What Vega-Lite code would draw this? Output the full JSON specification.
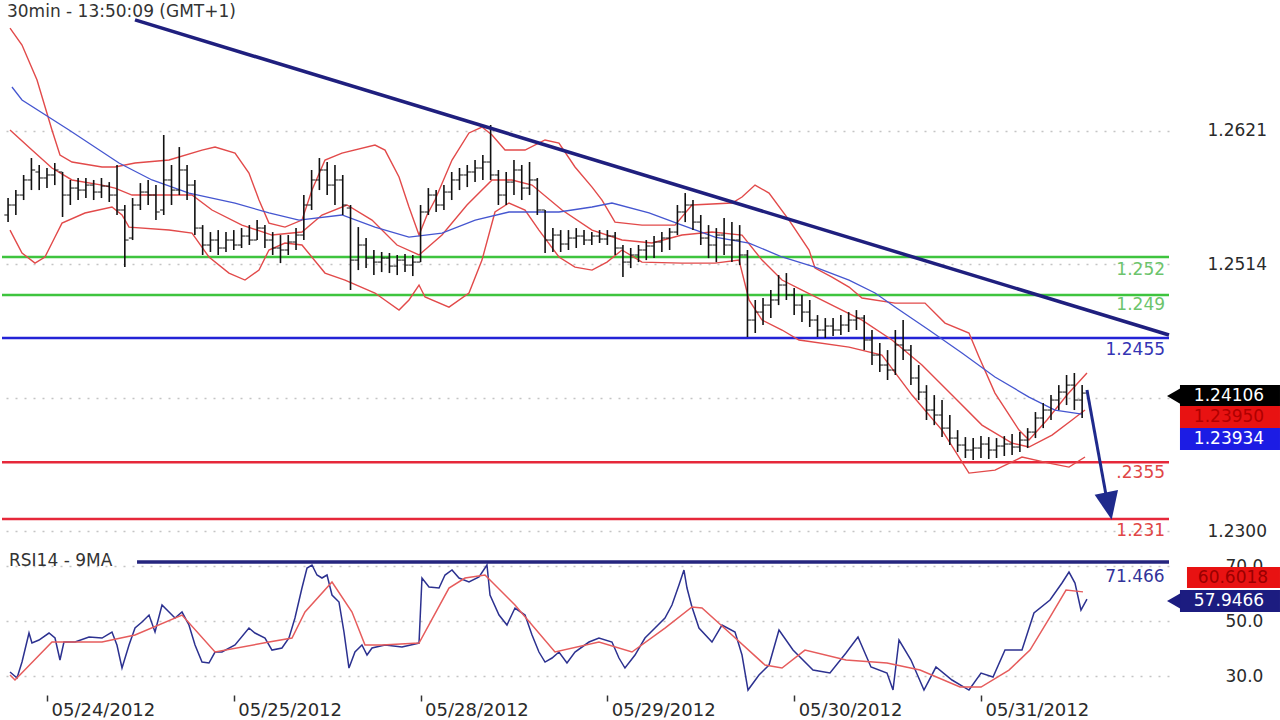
{
  "$schema": "https://vega.github.io/schema/vega-lite/v6.json",
  "padding": 0,
  "background": "white",
  "spacing": 4,
  "config": {"view": {"stroke": null}, "font": "DejaVu Sans"},
  "datasets": {
    "bars": [
      {"t":-5,"o":1.25536,"h":1.25672,"l":1.25479,"c":1.25616},
      {"t":-4,"o":1.25616,"h":1.25736,"l":1.25536,"c":1.25696},
      {"t":-3,"o":1.25696,"h":1.25857,"l":1.25656,"c":1.25817},
      {"t":-2,"o":1.25817,"h":1.25993,"l":1.25736,"c":1.25897},
      {"t":-1,"o":1.25881,"h":1.25937,"l":1.25736,"c":1.25833},
      {"t":0,"o":1.25833,"h":1.25913,"l":1.25752,"c":1.25857},
      {"t":1,"o":1.25857,"h":1.25953,"l":1.25776,"c":1.25897},
      {"t":2,"o":1.25881,"h":1.25881,"l":1.25520,"c":1.25696},
      {"t":3,"o":1.25696,"h":1.25817,"l":1.25616,"c":1.25752},
      {"t":4,"o":1.25752,"h":1.25833,"l":1.25656,"c":1.25736},
      {"t":5,"o":1.25736,"h":1.25833,"l":1.25672,"c":1.25776},
      {"t":6,"o":1.25776,"h":1.25817,"l":1.25656,"c":1.25720},
      {"t":7,"o":1.25720,"h":1.25833,"l":1.25672,"c":1.25768},
      {"t":8,"o":1.25768,"h":1.25800,"l":1.25640,"c":1.25696},
      {"t":9,"o":1.25696,"h":1.25937,"l":1.25536,"c":1.25576},
      {"t":10,"o":1.25576,"h":1.25616,"l":1.25118,"c":1.25335},
      {"t":11,"o":1.25351,"h":1.25672,"l":1.25335,"c":1.25616},
      {"t":12,"o":1.25616,"h":1.25792,"l":1.25576,"c":1.25720},
      {"t":13,"o":1.25720,"h":1.25817,"l":1.25616,"c":1.25696},
      {"t":14,"o":1.25696,"h":1.25776,"l":1.25495,"c":1.25560},
      {"t":15,"o":1.25576,"h":1.26178,"l":1.25536,"c":1.25817},
      {"t":16,"o":1.25817,"h":1.25937,"l":1.25616,"c":1.25736},
      {"t":17,"o":1.25736,"h":1.26081,"l":1.25696,"c":1.25897},
      {"t":18,"o":1.25897,"h":1.25937,"l":1.25656,"c":1.25776},
      {"t":19,"o":1.25776,"h":1.25817,"l":1.25375,"c":1.25431},
      {"t":20,"o":1.25431,"h":1.25455,"l":1.25215,"c":1.25295},
      {"t":21,"o":1.25295,"h":1.25399,"l":1.25239,"c":1.25335},
      {"t":22,"o":1.25335,"h":1.25415,"l":1.25215,"c":1.25271},
      {"t":23,"o":1.25271,"h":1.25399,"l":1.25239,"c":1.25335},
      {"t":24,"o":1.25335,"h":1.25415,"l":1.25255,"c":1.25295},
      {"t":25,"o":1.25295,"h":1.25431,"l":1.25271,"c":1.25367},
      {"t":26,"o":1.25367,"h":1.25455,"l":1.25295,"c":1.25335},
      {"t":27,"o":1.25335,"h":1.25495,"l":1.25335,"c":1.25431},
      {"t":28,"o":1.25431,"h":1.25455,"l":1.25271,"c":1.25335},
      {"t":29,"o":1.25335,"h":1.25399,"l":1.25215,"c":1.25271},
      {"t":30,"o":1.25271,"h":1.25375,"l":1.25150,"c":1.25255},
      {"t":31,"o":1.25255,"h":1.25375,"l":1.25215,"c":1.25319},
      {"t":32,"o":1.25319,"h":1.25431,"l":1.25255,"c":1.25375},
      {"t":33,"o":1.25375,"h":1.25696,"l":1.25335,"c":1.25616},
      {"t":34,"o":1.25616,"h":1.25897,"l":1.25576,"c":1.25817},
      {"t":35,"o":1.25817,"h":1.25993,"l":1.25736,"c":1.25897},
      {"t":36,"o":1.25897,"h":1.25961,"l":1.25696,"c":1.25776},
      {"t":37,"o":1.25776,"h":1.25937,"l":1.25616,"c":1.25817},
      {"t":38,"o":1.25817,"h":1.25857,"l":1.25536,"c":1.25616},
      {"t":39,"o":1.25592,"h":1.25616,"l":1.24934,"c":1.25174},
      {"t":40,"o":1.25174,"h":1.25439,"l":1.25094,"c":1.25295},
      {"t":41,"o":1.25295,"h":1.25351,"l":1.25110,"c":1.25190},
      {"t":42,"o":1.25190,"h":1.25255,"l":1.25054,"c":1.25158},
      {"t":43,"o":1.25158,"h":1.25239,"l":1.25078,"c":1.25190},
      {"t":44,"o":1.25190,"h":1.25231,"l":1.25070,"c":1.25126},
      {"t":45,"o":1.25126,"h":1.25215,"l":1.25054,"c":1.25174},
      {"t":46,"o":1.25174,"h":1.25223,"l":1.25078,"c":1.25134},
      {"t":47,"o":1.25134,"h":1.25215,"l":1.25046,"c":1.25158},
      {"t":48,"o":1.25158,"h":1.25616,"l":1.25158,"c":1.25560},
      {"t":49,"o":1.25560,"h":1.25752,"l":1.25536,"c":1.25696},
      {"t":50,"o":1.25696,"h":1.25736,"l":1.25560,"c":1.25616},
      {"t":51,"o":1.25616,"h":1.25776,"l":1.25576,"c":1.25720},
      {"t":52,"o":1.25720,"h":1.25881,"l":1.25656,"c":1.25817},
      {"t":53,"o":1.25817,"h":1.25913,"l":1.25736,"c":1.25857},
      {"t":54,"o":1.25857,"h":1.25937,"l":1.25760,"c":1.25881},
      {"t":55,"o":1.25881,"h":1.25977,"l":1.25800,"c":1.25913},
      {"t":56,"o":1.25913,"h":1.26017,"l":1.25817,"c":1.25961},
      {"t":57,"o":1.25961,"h":1.26258,"l":1.25817,"c":1.25857},
      {"t":58,"o":1.25857,"h":1.25897,"l":1.25616,"c":1.25696},
      {"t":59,"o":1.25696,"h":1.25881,"l":1.25616,"c":1.25800},
      {"t":60,"o":1.25800,"h":1.25977,"l":1.25696,"c":1.25897},
      {"t":61,"o":1.25897,"h":1.25937,"l":1.25656,"c":1.25752},
      {"t":62,"o":1.25752,"h":1.25961,"l":1.25696,"c":1.25817},
      {"t":63,"o":1.25817,"h":1.25833,"l":1.25536,"c":1.25576},
      {"t":64,"o":1.25576,"h":1.25576,"l":1.25231,"c":1.25335},
      {"t":65,"o":1.25335,"h":1.25431,"l":1.25239,"c":1.25375},
      {"t":66,"o":1.25375,"h":1.25415,"l":1.25239,"c":1.25303},
      {"t":67,"o":1.25303,"h":1.25415,"l":1.25255,"c":1.25351},
      {"t":68,"o":1.25351,"h":1.25431,"l":1.25271,"c":1.25367},
      {"t":69,"o":1.25367,"h":1.25415,"l":1.25295,"c":1.25335},
      {"t":70,"o":1.25335,"h":1.25399,"l":1.25295,"c":1.25367},
      {"t":71,"o":1.25367,"h":1.25415,"l":1.25311,"c":1.25343},
      {"t":72,"o":1.25343,"h":1.25415,"l":1.25295,"c":1.25367},
      {"t":73,"o":1.25367,"h":1.25399,"l":1.25215,"c":1.25271},
      {"t":74,"o":1.25271,"h":1.25295,"l":1.25038,"c":1.25158},
      {"t":75,"o":1.25158,"h":1.25271,"l":1.25110,"c":1.25215},
      {"t":76,"o":1.25215,"h":1.25295,"l":1.25158,"c":1.25255},
      {"t":77,"o":1.25255,"h":1.25335,"l":1.25174,"c":1.25287},
      {"t":78,"o":1.25287,"h":1.25367,"l":1.25190,"c":1.25319},
      {"t":79,"o":1.25319,"h":1.25399,"l":1.25239,"c":1.25351},
      {"t":80,"o":1.25351,"h":1.25431,"l":1.25255,"c":1.25399},
      {"t":81,"o":1.25399,"h":1.25616,"l":1.25375,"c":1.25560},
      {"t":82,"o":1.25560,"h":1.25712,"l":1.25479,"c":1.25616},
      {"t":83,"o":1.25616,"h":1.25656,"l":1.25415,"c":1.25479},
      {"t":84,"o":1.25479,"h":1.25536,"l":1.25295,"c":1.25351},
      {"t":85,"o":1.25351,"h":1.25455,"l":1.25190,"c":1.25295},
      {"t":86,"o":1.25295,"h":1.25431,"l":1.25158,"c":1.25375},
      {"t":87,"o":1.25375,"h":1.25511,"l":1.25215,"c":1.25295},
      {"t":88,"o":1.25295,"h":1.25479,"l":1.25158,"c":1.25335},
      {"t":89,"o":1.25335,"h":1.25455,"l":1.25134,"c":1.25215},
      {"t":90,"o":1.25215,"h":1.25255,"l":1.24557,"c":1.24693},
      {"t":91,"o":1.24693,"h":1.24854,"l":1.24589,"c":1.24757},
      {"t":92,"o":1.24757,"h":1.24870,"l":1.24653,"c":1.24813},
      {"t":93,"o":1.24813,"h":1.24934,"l":1.24709,"c":1.24854},
      {"t":94,"o":1.24854,"h":1.25054,"l":1.24813,"c":1.24974},
      {"t":95,"o":1.24974,"h":1.25070,"l":1.24854,"c":1.24894},
      {"t":96,"o":1.24894,"h":1.24950,"l":1.24733,"c":1.24813},
      {"t":97,"o":1.24813,"h":1.24894,"l":1.24677,"c":1.24757},
      {"t":98,"o":1.24757,"h":1.24854,"l":1.24637,"c":1.24693},
      {"t":99,"o":1.24693,"h":1.24733,"l":1.24557,"c":1.24613},
      {"t":100,"o":1.24613,"h":1.24709,"l":1.24549,"c":1.24645},
      {"t":101,"o":1.24645,"h":1.24709,"l":1.24565,"c":1.24613},
      {"t":102,"o":1.24613,"h":1.24733,"l":1.24573,"c":1.24653},
      {"t":103,"o":1.24653,"h":1.24757,"l":1.24597,"c":1.24693},
      {"t":104,"o":1.24693,"h":1.24773,"l":1.24613,"c":1.24709},
      {"t":105,"o":1.24709,"h":1.24733,"l":1.24452,"c":1.24533},
      {"t":106,"o":1.24533,"h":1.24613,"l":1.24332,"c":1.24412},
      {"t":107,"o":1.24412,"h":1.24509,"l":1.24276,"c":1.24332},
      {"t":108,"o":1.24332,"h":1.24452,"l":1.24212,"c":1.24292},
      {"t":109,"o":1.24292,"h":1.24613,"l":1.24252,"c":1.24493},
      {"t":110,"o":1.24493,"h":1.24693,"l":1.24372,"c":1.24452},
      {"t":111,"o":1.24452,"h":1.24493,"l":1.24171,"c":1.24228},
      {"t":112,"o":1.24228,"h":1.24332,"l":1.24051,"c":1.24115},
      {"t":113,"o":1.24115,"h":1.24171,"l":1.23891,"c":1.23971},
      {"t":114,"o":1.23971,"h":1.24091,"l":1.23850,"c":1.23931},
      {"t":115,"o":1.23931,"h":1.24051,"l":1.23754,"c":1.23826},
      {"t":116,"o":1.23826,"h":1.23931,"l":1.23690,"c":1.23746},
      {"t":117,"o":1.23746,"h":1.23810,"l":1.23634,"c":1.23690},
      {"t":118,"o":1.23690,"h":1.23754,"l":1.23586,"c":1.23650},
      {"t":119,"o":1.23650,"h":1.23746,"l":1.23570,"c":1.23666},
      {"t":120,"o":1.23666,"h":1.23762,"l":1.23586,"c":1.23698},
      {"t":121,"o":1.23698,"h":1.23754,"l":1.23578,"c":1.23650},
      {"t":122,"o":1.23650,"h":1.23746,"l":1.23586,"c":1.23682},
      {"t":123,"o":1.23682,"h":1.23762,"l":1.23602,"c":1.23698},
      {"t":124,"o":1.23698,"h":1.23778,"l":1.23610,"c":1.23674},
      {"t":125,"o":1.23674,"h":1.23794,"l":1.23634,"c":1.23730},
      {"t":126,"o":1.23730,"h":1.23826,"l":1.23666,"c":1.23794},
      {"t":127,"o":1.23794,"h":1.23955,"l":1.23746,"c":1.23907},
      {"t":128,"o":1.23907,"h":1.24027,"l":1.23826,"c":1.23971},
      {"t":129,"o":1.23971,"h":1.24091,"l":1.23891,"c":1.24051},
      {"t":130,"o":1.24051,"h":1.24171,"l":1.23971,"c":1.24115},
      {"t":131,"o":1.24115,"h":1.24252,"l":1.24011,"c":1.24171},
      {"t":132,"o":1.24171,"h":1.24268,"l":1.23971,"c":1.24051},
      {"t":133,"o":1.24051,"h":1.24171,"l":1.23907,"c":1.24107}
    ],
    "bands": [
      {"s":"upper","t":-4.75,"p":1.27036},{"s":"upper","t":-3.21,"p":1.26900},{"s":"upper","t":-1.28,"p":1.26619},{"s":"upper","t":0.64,"p":1.26218},{"s":"upper","t":1.67,"p":1.26017},{"s":"upper","t":3.21,"p":1.25961},{"s":"upper","t":7.07,"p":1.25921},{"s":"upper","t":8.74,"p":1.25921},{"s":"upper","t":11.31,"p":1.25953},{"s":"upper","t":15.68,"p":1.25977},{"s":"upper","t":19.92,"p":1.26057},{"s":"upper","t":21.59,"p":1.26081},{"s":"upper","t":24.16,"p":1.26033},{"s":"upper","t":25.95,"p":1.25873},{"s":"upper","t":27.24,"p":1.25656},{"s":"upper","t":28.52,"p":1.25471},{"s":"upper","t":30.58,"p":1.25439},{"s":"upper","t":32.76,"p":1.25495},{"s":"upper","t":34.05,"p":1.25736},{"s":"upper","t":35.72,"p":1.25977},{"s":"upper","t":37.90,"p":1.26033},{"s":"upper","t":42.14,"p":1.26097},{"s":"upper","t":43.43,"p":1.26057},{"s":"upper","t":45.23,"p":1.25841},{"s":"upper","t":46.51,"p":1.25600},{"s":"upper","t":47.80,"p":1.25375},{"s":"upper","t":48.83,"p":1.25536},{"s":"upper","t":49.85,"p":1.25656},{"s":"upper","t":52.04,"p":1.25977},{"s":"upper","t":54.22,"p":1.26194},{"s":"upper","t":55.89,"p":1.26242},{"s":"upper","t":57.18,"p":1.26178},{"s":"upper","t":58.85,"p":1.26057},{"s":"upper","t":61.42,"p":1.26057},{"s":"upper","t":63.99,"p":1.26138},{"s":"upper","t":65.78,"p":1.26113},{"s":"upper","t":67.84,"p":1.25921},{"s":"upper","t":70.03,"p":1.25760},{"s":"upper","t":71.31,"p":1.25656},{"s":"upper","t":72.98,"p":1.25479},{"s":"upper","t":76.45,"p":1.25455},{"s":"upper","t":80.69,"p":1.25455},{"s":"upper","t":82.87,"p":1.25616},{"s":"upper","t":88.01,"p":1.25632},{"s":"upper","t":89.30,"p":1.25680},{"s":"upper","t":90.97,"p":1.25776},{"s":"upper","t":92.77,"p":1.25712},{"s":"upper","t":95.34,"p":1.25495},{"s":"upper","t":97.91,"p":1.25255},{"s":"upper","t":98.68,"p":1.25110},{"s":"upper","t":100.86,"p":1.25038},{"s":"upper","t":103.05,"p":1.24958},{"s":"upper","t":104.72,"p":1.24870},{"s":"upper","t":108.96,"p":1.24829},{"s":"upper","t":112.81,"p":1.24829},{"s":"upper","t":115.38,"p":1.24669},{"s":"upper","t":118.46,"p":1.24589},{"s":"upper","t":119.75,"p":1.24396},{"s":"upper","t":121.80,"p":1.24107},{"s":"upper","t":124.89,"p":1.23810},{"s":"upper","t":126.17,"p":1.23730},{"s":"upper","t":128.48,"p":1.23891},{"s":"upper","t":131.05,"p":1.24091},{"s":"upper","t":133.62,"p":1.24268},
      {"s":"mid","t":-4.75,"p":1.26218},{"s":"mid","t":-1.93,"p":1.26057},{"s":"mid","t":0.64,"p":1.25913},{"s":"mid","t":3.21,"p":1.25817},{"s":"mid","t":7.07,"p":1.25776},{"s":"mid","t":8.74,"p":1.25752},{"s":"mid","t":10.92,"p":1.25696},{"s":"mid","t":14.78,"p":1.25696},{"s":"mid","t":18.63,"p":1.25696},{"s":"mid","t":21.20,"p":1.25576},{"s":"mid","t":25.05,"p":1.25455},{"s":"mid","t":28.91,"p":1.25375},{"s":"mid","t":32.76,"p":1.25399},{"s":"mid","t":35.33,"p":1.25536},{"s":"mid","t":38.55,"p":1.25616},{"s":"mid","t":41.76,"p":1.25495},{"s":"mid","t":44.97,"p":1.25295},{"s":"mid","t":47.80,"p":1.25215},{"s":"mid","t":50.75,"p":1.25375},{"s":"mid","t":53.96,"p":1.25616},{"s":"mid","t":57.18,"p":1.25817},{"s":"mid","t":59.75,"p":1.25817},{"s":"mid","t":62.32,"p":1.25776},{"s":"mid","t":66.17,"p":1.25576},{"s":"mid","t":70.03,"p":1.25415},{"s":"mid","t":73.88,"p":1.25335},{"s":"mid","t":77.73,"p":1.25311},{"s":"mid","t":81.59,"p":1.25375},{"s":"mid","t":85.44,"p":1.25399},{"s":"mid","t":89.30,"p":1.25375},{"s":"mid","t":91.87,"p":1.25174},{"s":"mid","t":94.44,"p":1.25014},{"s":"mid","t":97.01,"p":1.24934},{"s":"mid","t":100.86,"p":1.24813},{"s":"mid","t":104.72,"p":1.24693},{"s":"mid","t":108.57,"p":1.24533},{"s":"mid","t":112.42,"p":1.24332},{"s":"mid","t":116.28,"p":1.24091},{"s":"mid","t":120.13,"p":1.23850},{"s":"mid","t":123.99,"p":1.23706},{"s":"mid","t":126.17,"p":1.23674},{"s":"mid","t":129.13,"p":1.23770},{"s":"mid","t":131.70,"p":1.23891},{"s":"mid","t":133.37,"p":1.23971},
      {"s":"lower","t":-4.75,"p":1.25415},{"s":"lower","t":-3.21,"p":1.25231},{"s":"lower","t":-1.54,"p":1.25150},{"s":"lower","t":-0.26,"p":1.25199},{"s":"lower","t":1.03,"p":1.25359},{"s":"lower","t":1.93,"p":1.25471},{"s":"lower","t":4.88,"p":1.25552},{"s":"lower","t":8.35,"p":1.25600},{"s":"lower","t":9.64,"p":1.25536},{"s":"lower","t":10.54,"p":1.25439},{"s":"lower","t":15.68,"p":1.25415},{"s":"lower","t":18.63,"p":1.25391},{"s":"lower","t":20.81,"p":1.25199},{"s":"lower","t":23.38,"p":1.25070},{"s":"lower","t":25.44,"p":1.25014},{"s":"lower","t":27.24,"p":1.25094},{"s":"lower","t":28.52,"p":1.25255},{"s":"lower","t":30.58,"p":1.25311},{"s":"lower","t":32.76,"p":1.25295},{"s":"lower","t":35.72,"p":1.25070},{"s":"lower","t":38.29,"p":1.25014},{"s":"lower","t":42.14,"p":1.24910},{"s":"lower","t":45.23,"p":1.24773},{"s":"lower","t":46.51,"p":1.24854},{"s":"lower","t":47.80,"p":1.24974},{"s":"lower","t":48.57,"p":1.24878},{"s":"lower","t":51.65,"p":1.24797},{"s":"lower","t":54.22,"p":1.24910},{"s":"lower","t":55.89,"p":1.25174},{"s":"lower","t":57.56,"p":1.25560},{"s":"lower","t":59.36,"p":1.25632},{"s":"lower","t":61.42,"p":1.25576},{"s":"lower","t":63.21,"p":1.25415},{"s":"lower","t":65.78,"p":1.25199},{"s":"lower","t":67.84,"p":1.25118},{"s":"lower","t":70.03,"p":1.25094},{"s":"lower","t":71.95,"p":1.25158},{"s":"lower","t":73.88,"p":1.25255},{"s":"lower","t":76.45,"p":1.25158},{"s":"lower","t":81.59,"p":1.25150},{"s":"lower","t":85.83,"p":1.25150},{"s":"lower","t":88.91,"p":1.25174},{"s":"lower","t":90.20,"p":1.24854},{"s":"lower","t":91.87,"p":1.24693},{"s":"lower","t":94.44,"p":1.24613},{"s":"lower","t":96.62,"p":1.24533},{"s":"lower","t":103.05,"p":1.24476},{"s":"lower","t":107.28,"p":1.24412},{"s":"lower","t":111.14,"p":1.24091},{"s":"lower","t":114.99,"p":1.23810},{"s":"lower","t":118.46,"p":1.23465},{"s":"lower","t":121.80,"p":1.23489},{"s":"lower","t":125.27,"p":1.23594},{"s":"lower","t":128.74,"p":1.23545},{"s":"lower","t":131.31,"p":1.23513},{"s":"lower","t":133.37,"p":1.23594},
      {"s":"ma","t":-4.50,"p":1.26563},{"s":"ma","t":-3.21,"p":1.26459},{"s":"ma","t":2.83,"p":1.26218},{"s":"ma","t":9.25,"p":1.25953},{"s":"ma","t":13.49,"p":1.25817},{"s":"ma","t":18.24,"p":1.25712},{"s":"ma","t":24.16,"p":1.25632},{"s":"ma","t":28.52,"p":1.25552},{"s":"ma","t":32.38,"p":1.25495},{"s":"ma","t":37.90,"p":1.25536},{"s":"ma","t":42.14,"p":1.25439},{"s":"ma","t":46.51,"p":1.25359},{"s":"ma","t":50.75,"p":1.25391},{"s":"ma","t":55.02,"p":1.25495},{"s":"ma","t":59.36,"p":1.25560},{"s":"ma","t":65.78,"p":1.25560},{"s":"ma","t":70.03,"p":1.25600},{"s":"ma","t":72.59,"p":1.25632},{"s":"ma","t":77.35,"p":1.25552},{"s":"ma","t":81.59,"p":1.25455},{"s":"ma","t":85.83,"p":1.25359},{"s":"ma","t":90.20,"p":1.25311},{"s":"ma","t":94.44,"p":1.25199},{"s":"ma","t":98.68,"p":1.25118},{"s":"ma","t":103.05,"p":1.25014},{"s":"ma","t":106.39,"p":1.24910},{"s":"ma","t":108.96,"p":1.24797},{"s":"ma","t":113.32,"p":1.24613},{"s":"ma","t":117.56,"p":1.24428},{"s":"ma","t":121.80,"p":1.24236},{"s":"ma","t":126.17,"p":1.24075},{"s":"ma","t":129.51,"p":1.23971},{"s":"ma","t":132.98,"p":1.23939}
    ],
    "levels": [
      {"p":1.25199,"k":"g"},{"p":1.24894,"k":"g"},{"p":1.24549,"k":"b"},{"p":1.23553,"k":"r"},{"p":1.23096,"k":"r"}
    ],
    "levelLabels": [
      {"t":143.65,"p":1.25094,"txt":"1.252","k":"g"},
      {"t":143.65,"p":1.24813,"txt":"1.249","k":"g"},
      {"t":143.65,"p":1.24452,"txt":"1.2455","k":"b"},
      {"t":143.65,"p":1.23465,"txt":".2355","k":"r"},
      {"t":143.65,"p":1.23000,"txt":"1.231","k":"r"}
    ],
    "trend": [{"t":11.31,"p":1.27101},{"t":144.16,"p":1.24573}],
    "arrow": [{"t":133.62,"p":1.24131},{"t":136.07,"p":1.23289}],
    "arrowHead": [{"t":136.45,"p":1.23200}],
    "title": [{"t":-5.14,"p":1.27165,"txt":"30min - 13:50:09 (GMT+1)"}],
    "boxes": [
      {"t1":145.57,"t2":158.42,"p1":1.24171,"p2":1.24003,"k":"last","tt":151.87,"tp":1.24083,"txt":"1.24106"},
      {"t1":145.57,"t2":158.42,"p1":1.24003,"p2":1.23826,"k":"bb","tt":151.87,"tp":1.23915,"txt":"1.23950"},
      {"t1":145.57,"t2":158.42,"p1":1.23826,"p2":1.23650,"k":"ma","tt":151.87,"tp":1.23738,"txt":"1.23934"}
    ],
    "pointer": [{"t":144.8,"p":1.24083}],
    "rsi": [
      {"t":-4.75,"v":31.45},{"t":-3.85,"v":29.27},{"t":-3.21,"v":35.09},{"t":-2.31,"v":45.64},{"t":-1.93,"v":42.00},{"t":-1.03,"v":43.09},{"t":0.26,"v":45.64},{"t":1.03,"v":43.82},{"t":1.67,"v":35.82},{"t":2.18,"v":42.36},{"t":3.60,"v":42.36},{"t":5.40,"v":44.18},{"t":7.07,"v":43.82},{"t":8.35,"v":46.00},{"t":8.99,"v":41.27},{"t":9.64,"v":32.91},{"t":10.54,"v":41.27},{"t":11.31,"v":47.45},{"t":12.21,"v":49.64},{"t":13.11,"v":52.18},{"t":13.88,"v":46.00},{"t":14.78,"v":55.82},{"t":15.68,"v":53.27},{"t":16.45,"v":51.09},{"t":17.35,"v":53.27},{"t":18.24,"v":48.55},{"t":19.02,"v":41.27},{"t":19.92,"v":35.09},{"t":20.81,"v":34.73},{"t":21.59,"v":38.73},{"t":22.48,"v":38.73},{"t":24.16,"v":41.27},{"t":25.95,"v":47.45},{"t":26.72,"v":45.64},{"t":28.01,"v":43.82},{"t":28.91,"v":39.45},{"t":30.19,"v":40.18},{"t":31.09,"v":43.82},{"t":31.86,"v":51.09},{"t":32.76,"v":62.00},{"t":33.41,"v":69.27},{"t":34.05,"v":70.36},{"t":34.69,"v":66.73},{"t":35.33,"v":65.64},{"t":35.98,"v":66.73},{"t":36.62,"v":59.45},{"t":37.52,"v":56.91},{"t":38.16,"v":46.00},{"t":38.80,"v":32.91},{"t":39.57,"v":38.73},{"t":40.47,"v":41.27},{"t":41.12,"v":37.64},{"t":41.76,"v":40.18},{"t":43.43,"v":41.27},{"t":45.61,"v":40.55},{"t":47.80,"v":42.00},{"t":48.18,"v":65.64},{"t":49.08,"v":62.36},{"t":50.37,"v":62.00},{"t":51.14,"v":66.73},{"t":52.04,"v":68.55},{"t":52.94,"v":65.64},{"t":54.22,"v":64.18},{"t":55.51,"v":66.00},{"t":56.53,"v":70.36},{"t":56.92,"v":59.45},{"t":58.08,"v":52.18},{"t":59.10,"v":48.55},{"t":60.13,"v":54.73},{"t":61.42,"v":52.18},{"t":62.32,"v":44.91},{"t":63.21,"v":38.73},{"t":63.99,"v":35.09},{"t":64.89,"v":36.55},{"t":65.78,"v":38.73},{"t":66.81,"v":34.73},{"t":67.84,"v":38.73},{"t":69.64,"v":42.36},{"t":70.92,"v":43.82},{"t":72.59,"v":42.36},{"t":73.49,"v":36.55},{"t":74.26,"v":32.91},{"t":75.55,"v":37.64},{"t":76.83,"v":43.82},{"t":78.12,"v":47.45},{"t":79.40,"v":51.09},{"t":80.30,"v":55.82},{"t":81.20,"v":63.09},{"t":81.84,"v":68.55},{"t":82.23,"v":62.00},{"t":82.87,"v":55.09},{"t":83.77,"v":47.45},{"t":85.44,"v":42.36},{"t":86.73,"v":48.55},{"t":88.40,"v":46.00},{"t":89.30,"v":37.64},{"t":90.07,"v":24.91},{"t":91.48,"v":30.36},{"t":92.77,"v":34.00},{"t":94.05,"v":46.73},{"t":95.85,"v":39.45},{"t":98.42,"v":32.18},{"t":100.60,"v":31.09},{"t":102.66,"v":38.36},{"t":104.20,"v":44.18},{"t":105.87,"v":33.27},{"t":107.93,"v":31.09},{"t":108.70,"v":24.91},{"t":109.47,"v":43.09},{"t":111.01,"v":35.82},{"t":112.68,"v":24.91},{"t":114.22,"v":33.27},{"t":116.28,"v":28.55},{"t":118.46,"v":24.91},{"t":120.01,"v":31.09},{"t":121.55,"v":29.64},{"t":123.09,"v":39.45},{"t":125.27,"v":39.45},{"t":126.81,"v":52.91},{"t":128.87,"v":57.64},{"t":130.41,"v":63.82},{"t":131.31,"v":67.82},{"t":132.08,"v":63.82},{"t":132.85,"v":54.00},{"t":133.62,"v":57.95}
    ],
    "rsima": [
      {"t":-4.75,"v":30.36},{"t":-4.11,"v":28.55},{"t":0.64,"v":42.36},{"t":7.07,"v":42.36},{"t":11.31,"v":44.91},{"t":17.35,"v":52.18},{"t":21.59,"v":38.73},{"t":28.52,"v":42.36},{"t":31.48,"v":43.82},{"t":33.15,"v":53.27},{"t":36.62,"v":64.18},{"t":39.19,"v":53.27},{"t":40.86,"v":41.27},{"t":43.04,"v":41.27},{"t":47.80,"v":42.00},{"t":51.65,"v":62.00},{"t":53.71,"v":65.64},{"t":56.28,"v":66.73},{"t":60.13,"v":55.82},{"t":65.27,"v":38.73},{"t":70.92,"v":42.36},{"t":75.16,"v":38.73},{"t":79.40,"v":47.45},{"t":82.87,"v":55.09},{"t":84.16,"v":54.73},{"t":88.01,"v":44.91},{"t":92.25,"v":34.00},{"t":94.44,"v":32.91},{"t":97.39,"v":39.45},{"t":102.66,"v":35.82},{"t":107.93,"v":34.73},{"t":112.17,"v":32.18},{"t":117.31,"v":26.00},{"t":120.01,"v":26.00},{"t":123.60,"v":32.18},{"t":126.30,"v":39.45},{"t":128.87,"v":51.45},{"t":130.93,"v":61.27},{"t":133.11,"v":60.60}
    ],
    "rsiLevel": [{"t1":11.57,"t2":144.16,"v":71.466}],
    "rsiTexts": [
      {"t":-4.88,"v":71.82,"txt":"RSI14 - 9MA","k":"title"},
      {"t":143.6,"v":66.0,"txt":"71.466","k":"level"}
    ],
    "rsiBoxes": [
      {"t1":146.47,"t2":158.42,"v1":69.64,"v2":62.00,"k":"bb","tt":152.38,"tv":65.64,"txt":"60.6018"},
      {"t1":145.57,"t2":158.42,"v1":61.27,"v2":53.27,"k":"ma","tt":151.87,"tv":57.27,"txt":"57.9466"}
    ],
    "rsiPointer": [{"t":144.8,"v":57.27}]
  },
  "vconcat": [
    {
      "width": 1167,
      "height": 548,
      "resolve": {"scale": {"color": "independent", "fill": "independent"}},
      "layer": [
        {
          "data": {"name": "levels"},
          "mark": {"type": "rule", "strokeWidth": 2.5},
          "encoding": {
            "y": {"field": "p", "type": "quantitative", "scale": {"domain": [1.22864, 1.27261], "nice": false, "zero": false},
              "axis": {"orient": "right", "values": [1.23, 1.2407, 1.2514, 1.2621], "labelExpr": "abs(datum.value-1.2407)<0.00005 ? '' : format(datum.value,'.4f')", "grid": true, "gridDash": [2, 7], "gridColor": "#c4c4c4", "gridWidth": 1.5, "domain": false, "ticks": false, "labelPadding": 38, "labelFontSize": 17, "labelFont": "DejaVu Sans", "labelColor": "#2a2a2a", "title": null}},
            "color": {"field": "k", "type": "nominal", "scale": {"domain": ["g", "b", "r"], "range": ["#3ec43e", "#2323d6", "#e6283a"]}, "legend": null}
          }
        },
        {
          "data": {"name": "bands"},
          "transform": [{"filter": "datum.s != 'ma'"}],
          "mark": {"type": "line", "color": "#e24a4a", "strokeWidth": 1.4},
          "encoding": {
            "x": {"field": "t", "type": "quantitative", "scale": {"domain": [-5.78, 144.16], "nice": false, "zero": false}, "axis": null},
            "y": {"field": "p", "type": "quantitative"},
            "detail": {"field": "s"}
          }
        },
        {
          "data": {"name": "bands"},
          "transform": [{"filter": "datum.s == 'ma'"}],
          "mark": {"type": "line", "color": "#4556d0", "strokeWidth": 1.3},
          "encoding": {
            "x": {"field": "t", "type": "quantitative", "axis": null},
            "y": {"field": "p", "type": "quantitative"}
          }
        },
        {
          "data": {"name": "bars"},
          "mark": {"type": "rule", "color": "#111111", "strokeWidth": 1.6},
          "encoding": {
            "x": {"field": "t", "type": "quantitative", "axis": null},
            "y": {"field": "l", "type": "quantitative"},
            "y2": {"field": "h"}
          }
        },
        {
          "data": {"name": "bars"},
          "mark": {"type": "tick", "orient": "horizontal", "color": "#111111", "size": 3.5, "thickness": 1.4, "xOffset": -2},
          "encoding": {
            "x": {"field": "t", "type": "quantitative", "axis": null},
            "y": {"field": "o", "type": "quantitative"}
          }
        },
        {
          "data": {"name": "bars"},
          "mark": {"type": "tick", "orient": "horizontal", "color": "#111111", "size": 3.5, "thickness": 1.4, "xOffset": 2},
          "encoding": {
            "x": {"field": "t", "type": "quantitative", "axis": null},
            "y": {"field": "c", "type": "quantitative"}
          }
        },
        {
          "data": {"name": "trend"},
          "mark": {"type": "line", "color": "#1f1f7e", "strokeWidth": 3.5},
          "encoding": {
            "x": {"field": "t", "type": "quantitative", "axis": null},
            "y": {"field": "p", "type": "quantitative"}
          }
        },
        {
          "data": {"name": "arrow"},
          "mark": {"type": "line", "color": "#1f2a8c", "strokeWidth": 3},
          "encoding": {
            "x": {"field": "t", "type": "quantitative", "axis": null},
            "y": {"field": "p", "type": "quantitative"}
          }
        },
        {
          "data": {"name": "arrowHead"},
          "mark": {"type": "point", "shape": "M-0.85,-1L0.85,-1L0,1Z", "filled": true, "color": "#1f2a8c", "opacity": 1, "size": 784, "angle": 349},
          "encoding": {
            "x": {"field": "t", "type": "quantitative", "axis": null},
            "y": {"field": "p", "type": "quantitative"}
          }
        },
        {
          "data": {"name": "levelLabels"},
          "mark": {"type": "text", "align": "right", "baseline": "middle", "fontSize": 17, "font": "DejaVu Sans"},
          "encoding": {
            "x": {"field": "t", "type": "quantitative", "axis": null},
            "y": {"field": "p", "type": "quantitative"},
            "text": {"field": "txt"},
            "color": {"field": "k", "type": "nominal", "scale": {"domain": ["g", "b", "r"], "range": ["#6cc46c", "#3434b4", "#e04646"]}, "legend": null}
          }
        },
        {
          "data": {"name": "title"},
          "mark": {"type": "text", "align": "left", "baseline": "middle", "fontSize": 17, "font": "DejaVu Sans", "color": "#333333"},
          "encoding": {
            "x": {"field": "t", "type": "quantitative", "axis": null},
            "y": {"field": "p", "type": "quantitative"},
            "text": {"field": "txt"}
          }
        },
        {
          "mark": {"type": "rule", "color": "#8c8c8c", "strokeWidth": 2},
          "encoding": {"x": {"datum": 144.16, "type": "quantitative", "axis": null}}
        },
        {
          "mark": {"type": "rule", "color": "#a0a0a0", "strokeWidth": 3},
          "encoding": {"y": {"datum": 1.22864, "type": "quantitative"}}
        },
        {
          "data": {"name": "boxes"},
          "mark": {"type": "rect"},
          "encoding": {
            "x": {"field": "t1", "type": "quantitative", "axis": null},
            "x2": {"field": "t2"},
            "y": {"field": "p1", "type": "quantitative"},
            "y2": {"field": "p2"},
            "fill": {"field": "k", "type": "nominal", "scale": {"domain": ["last", "bb", "ma"], "range": ["#000000", "#e81212", "#1c1ce4"]}, "legend": null}
          }
        },
        {
          "data": {"name": "pointer"},
          "mark": {"type": "point", "shape": "triangle-left", "filled": true, "color": "#000000", "opacity": 1, "size": 260},
          "encoding": {
            "x": {"field": "t", "type": "quantitative", "axis": null},
            "y": {"field": "p", "type": "quantitative"}
          }
        },
        {
          "data": {"name": "boxes"},
          "mark": {"type": "text", "align": "center", "baseline": "middle", "fontSize": 17, "font": "DejaVu Sans"},
          "encoding": {
            "x": {"field": "tt", "type": "quantitative", "axis": null},
            "y": {"field": "tp", "type": "quantitative"},
            "text": {"field": "txt"},
            "color": {"field": "k", "type": "nominal", "scale": {"domain": ["last", "bb", "ma"], "range": ["#ffffff", "#b00000", "#ffffff"]}, "legend": null}
          }
        }
      ]
    },
    {
      "width": 1167,
      "height": 143,
      "resolve": {"scale": {"color": "independent", "fill": "independent"}},
      "layer": [
        {
          "data": {"name": "rsi"},
          "mark": {"type": "line", "color": "#2c3190", "strokeWidth": 1.5},
          "encoding": {
            "x": {"field": "t", "type": "quantitative", "scale": {"domain": [-5.78, 144.16], "nice": false, "zero": false},
              "axis": {"orient": "bottom", "values": [0, 24, 48, 72, 96, 120], "labelExpr": "['05/24/2012','05/25/2012','05/28/2012','05/29/2012','05/30/2012','05/31/2012'][round(datum.value/24)]", "labelAlign": "left", "labelOffset": 4, "tickSize": 6, "tickColor": "#333333", "tickWidth": 1.5, "domain": false, "grid": false, "labelPadding": 0, "labelFontSize": 18, "labelFont": "DejaVu Sans", "labelColor": "#2a2a2a", "labelFlush": false, "labelOverlap": false, "title": null}},
            "y": {"field": "v", "type": "quantitative", "scale": {"domain": [23.1, 75.1], "nice": false, "zero": false},
              "axis": {"orient": "right", "values": [30, 50, 70], "format": ".1f", "grid": true, "gridDash": [2, 7], "gridColor": "#c4c4c4", "gridWidth": 1.5, "domain": false, "ticks": false, "labelPadding": 56, "labelFontSize": 17, "labelFont": "DejaVu Sans", "labelColor": "#2a2a2a", "title": null}}
          }
        },
        {
          "data": {"name": "rsima"},
          "mark": {"type": "line", "color": "#e65c5c", "strokeWidth": 1.5},
          "encoding": {
            "x": {"field": "t", "type": "quantitative"},
            "y": {"field": "v", "type": "quantitative"}
          }
        },
        {
          "data": {"name": "rsiLevel"},
          "mark": {"type": "rule", "color": "#25257e", "strokeWidth": 3.5},
          "encoding": {
            "x": {"field": "t1", "type": "quantitative"},
            "x2": {"field": "t2"},
            "y": {"field": "v", "type": "quantitative"}
          }
        },
        {
          "data": {"name": "rsiTexts"},
          "transform": [{"filter": "datum.k == 'title'"}],
          "mark": {"type": "text", "align": "left", "baseline": "middle", "fontSize": 17, "font": "DejaVu Sans", "color": "#333333"},
          "encoding": {
            "x": {"field": "t", "type": "quantitative"},
            "y": {"field": "v", "type": "quantitative"},
            "text": {"field": "txt"}
          }
        },
        {
          "data": {"name": "rsiTexts"},
          "transform": [{"filter": "datum.k == 'level'"}],
          "mark": {"type": "text", "align": "right", "baseline": "middle", "fontSize": 17, "font": "DejaVu Sans", "color": "#33339a"},
          "encoding": {
            "x": {"field": "t", "type": "quantitative"},
            "y": {"field": "v", "type": "quantitative"},
            "text": {"field": "txt"}
          }
        },
        {
          "mark": {"type": "rule", "color": "#a0a0a0", "strokeWidth": 2},
          "encoding": {"y": {"datum": 75.1, "type": "quantitative"}}
        },
        {
          "mark": {"type": "rule", "color": "#a0a0a0", "strokeWidth": 2.5},
          "encoding": {"y": {"datum": 23.1, "type": "quantitative"}}
        },
        {
          "mark": {"type": "rule", "color": "#8c8c8c", "strokeWidth": 2},
          "encoding": {"x": {"datum": 144.16, "type": "quantitative"}}
        },
        {
          "data": {"name": "rsiBoxes"},
          "mark": {"type": "rect"},
          "encoding": {
            "x": {"field": "t1", "type": "quantitative"},
            "x2": {"field": "t2"},
            "y": {"field": "v1", "type": "quantitative"},
            "y2": {"field": "v2"},
            "fill": {"field": "k", "type": "nominal", "scale": {"domain": ["bb", "ma"], "range": ["#e81212", "#1c1c80"]}, "legend": null}
          }
        },
        {
          "data": {"name": "rsiPointer"},
          "mark": {"type": "point", "shape": "triangle-left", "filled": true, "color": "#1c1c80", "opacity": 1, "size": 260},
          "encoding": {
            "x": {"field": "t", "type": "quantitative"},
            "y": {"field": "v", "type": "quantitative"}
          }
        },
        {
          "data": {"name": "rsiBoxes"},
          "mark": {"type": "text", "align": "center", "baseline": "middle", "fontSize": 17, "font": "DejaVu Sans"},
          "encoding": {
            "x": {"field": "tt", "type": "quantitative"},
            "y": {"field": "tv", "type": "quantitative"},
            "text": {"field": "txt"},
            "color": {"field": "k", "type": "nominal", "scale": {"domain": ["bb", "ma"], "range": ["#9a0000", "#ffffff"]}, "legend": null}
          }
        }
      ]
    }
  ]
}
